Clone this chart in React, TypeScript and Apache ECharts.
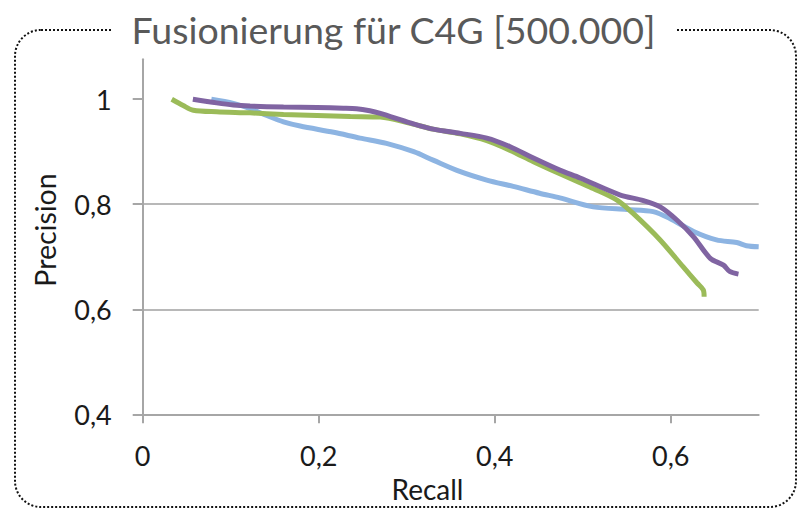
import React, { useEffect, useRef } from "react";
import * as echarts from "echarts";

const titleText = "Fusionierung für C4G [500.000]";
const xAxisName = "Recall";
const yAxisName = "Precision";
const xTicks = [0, 0.2, 0.4, 0.6];
const yTicks = [0.4, 0.6, 0.8, 1];

const blueRecall = [0.078, 0.103, 0.122, 0.141, 0.16, 0.179, 0.217, 0.247, 0.277, 0.308, 0.33, 0.361, 0.391, 0.421, 0.451, 0.474, 0.512, 0.55, 0.58, 0.599, 0.626, 0.652, 0.675, 0.686, 0.7];
const bluePrecision = [1.0, 0.992, 0.982, 0.969, 0.957, 0.949, 0.937, 0.926, 0.916, 0.9, 0.884, 0.862, 0.846, 0.834, 0.821, 0.812, 0.795, 0.79, 0.786, 0.773, 0.748, 0.732, 0.727, 0.721, 0.719];

const greenRecall = [0.033, 0.046, 0.0575, 0.084, 0.122, 0.16, 0.198, 0.236, 0.27, 0.304, 0.33, 0.361, 0.391, 0.417, 0.444, 0.474, 0.497, 0.512, 0.539, 0.557, 0.588, 0.614, 0.63, 0.637, 0.638];
const greenPrecision = [1.0, 0.988, 0.979, 0.976, 0.974, 0.971, 0.969, 0.967, 0.966, 0.954, 0.943, 0.934, 0.921, 0.903, 0.881, 0.858, 0.841, 0.83, 0.808, 0.783, 0.732, 0.681, 0.65, 0.637, 0.624];

const purpleRecall = [0.057, 0.084, 0.103, 0.122, 0.16, 0.198, 0.228, 0.243, 0.258, 0.27, 0.304, 0.33, 0.361, 0.391, 0.417, 0.444, 0.474, 0.497, 0.542, 0.569, 0.588, 0.607, 0.626, 0.645, 0.66, 0.667, 0.677];
const purplePrecision = [1.0, 0.993, 0.989, 0.987, 0.985, 0.984, 0.983, 0.982, 0.978, 0.973, 0.955, 0.943, 0.935, 0.926, 0.91, 0.888, 0.865, 0.85, 0.818, 0.807, 0.795, 0.77, 0.738, 0.697, 0.684, 0.672, 0.667];

const zip = (xs: number[], ys: number[]) => xs.map((x, i) => [x, ys[i]]);
const fmt = (v: number) => String(Math.round(v * 10) / 10).replace(".", ",");

const FONT = "Lato";

export default function App() {
  const ref = useRef<HTMLDivElement>(null);
  useEffect(() => {
    if (!ref.current) return;
    const chart = echarts.init(ref.current, undefined, { renderer: "svg" });
    chart.setOption({
      animation: false,
      backgroundColor: "#ffffff",
      grid: { left: 142.7, right: 41.3, top: 59.3, bottom: 99.7 },
      xAxis: {
        type: "value",
        min: 0,
        max: 0.7,
        interval: 0.2,
        axisLine: { show: true, lineStyle: { color: "#a6a6a6", width: 2 } },
        axisTick: { show: true, length: 9, customValues: xTicks, lineStyle: { color: "#a6a6a6", width: 2 } },
        axisLabel: { customValues: xTicks, margin: 27.5, fontSize: 27, fontFamily: FONT, color: "#1a1a1a", formatter: (v: number) => fmt(v) },
        splitLine: { show: false },
      },
      yAxis: {
        type: "value",
        min: 0.4,
        max: 1.076,
        interval: 0.2,
        axisLine: { show: true, lineStyle: { color: "#a6a6a6", width: 2 } },
        axisTick: { show: true, length: 10, customValues: yTicks, lineStyle: { color: "#a6a6a6", width: 2 } },
        axisLabel: { customValues: yTicks, margin: 31, fontSize: 27, fontFamily: FONT, color: "#1a1a1a", formatter: (v: number) => fmt(v) },
        splitLine: { show: true, showMaxLine: false, lineStyle: { color: "#b8b8b8", width: 2 } },
      },
      graphic: [
        {
          type: "rect",
          z: 0,
          shape: { x: 15, y: 30, width: 781, height: 477, r: 26 },
          style: { fill: "none", stroke: "#111", lineWidth: 2, lineDash: [2, 2] },
        },
        {
          type: "text",
          z: 10,
          x: 393.5,
          y: 29,
          style: {
            text: titleText,
            fontSize: 37.5,
            fontFamily: FONT,
            fill: "#595959",
            align: "center",
            verticalAlign: "middle",
            backgroundColor: "#ffffff",
            padding: [0, 20],
          },
        },
        {
          type: "text",
          x: 427.5,
          y: 489,
          style: { text: xAxisName, fontSize: 28, fontFamily: FONT, fill: "#1a1a1a", align: "center", verticalAlign: "middle" },
        },
        {
          type: "text",
          x: 45,
          y: 230,
          rotation: Math.PI / 2,
          style: { text: yAxisName, fontSize: 28.5, fontFamily: FONT, fill: "#1a1a1a", align: "center", verticalAlign: "middle" },
        },
      ],
      series: [
        { type: "line", data: zip(blueRecall, bluePrecision), showSymbol: false, smooth: 0.3, lineStyle: { color: "#8DB4E2", width: 5 }, itemStyle: { color: "#8DB4E2" } },
        { type: "line", data: zip(greenRecall, greenPrecision), showSymbol: false, smooth: 0.3, lineStyle: { color: "#9BBB59", width: 5 }, itemStyle: { color: "#9BBB59" } },
        { type: "line", data: zip(purpleRecall, purplePrecision), showSymbol: false, smooth: 0.3, lineStyle: { color: "#8064A2", width: 5 }, itemStyle: { color: "#8064A2" } },
      ],
    });
    return () => chart.dispose();
  }, []);
  return <div ref={ref} style={{ width: 800, height: 514, position: "absolute", left: 0, top: 0 }} />;
}
